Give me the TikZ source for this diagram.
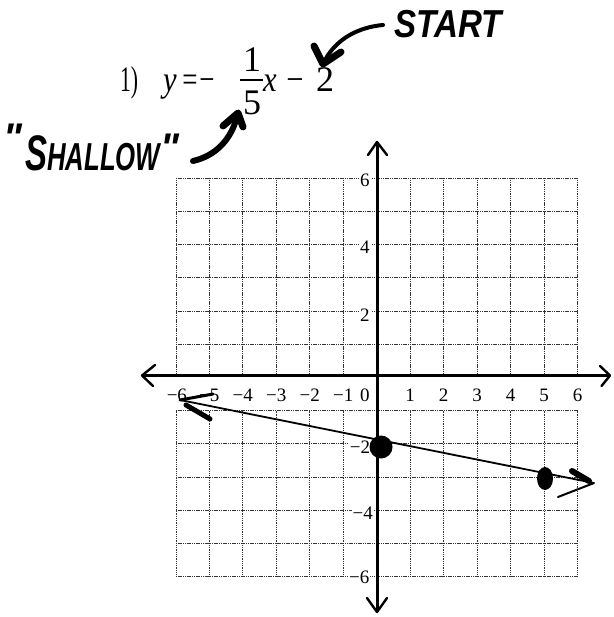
\documentclass[tikz,border=0pt]{standalone}
\usepackage{fontspec}
\usetikzlibrary{shapes.geometric}
\setmainfont{Liberation Serif}
\newfontfamily\hand{Liberation Sans}
\begin{document}
\begin{tikzpicture}[x=1pt,y=-1pt,
  eq/.style={font=\fontsize{36}{36}\selectfont, inner sep=0pt, anchor=base},
  handtxt/.style={font=\hand\bfseries\itshape, inner sep=0pt},
  axlab/.style={font=\fontsize{19}{19}\selectfont, inner sep=0.8pt},
  ylab/.style={axlab, fill=white},
  gridline/.style={line width=0.7pt, black!80, dash pattern=on 1.1pt off 0.7pt},
  axisline/.style={line width=3pt},
  axishead/.style={line width=2.4pt, line cap=round, line join=round},
  marker/.style={line cap=round, line join=round},
  dot/.style={fill=black, inner sep=0pt, draw=none}]
\useasboundingbox (0,0) rectangle (613,617);
\fill[white] (0,0) rectangle (613,617);

% grid
\begin{scope}[shift={(376.7pt,-377.3pt)}, x=33.47pt, y=33.22pt]
  \foreach \i in {1,...,6} \draw[gridline] (-6,\i) -- (6,\i);
  \foreach \i in {-6,...,6} \draw[gridline] (\i,0) -- (\i,6);
  \foreach \i in {-1,...,-6} \draw[gridline] (-6,\i) -- (6,\i);
  \foreach \i in {-6,...,6} \draw[gridline] (\i,-6) -- (\i,-1);
  % y labels
  \node[ylab] (y6) at (-0.35,5.94) {6};
  \node[ylab] (y4) at (-0.35,3.92) {4};
  \node[ylab] (y2) at (-0.35,1.88) {2};
  \node[ylab] (ym2) at (-0.5,-2.1) {−2};
  \node[ylab] (ym4) at (-0.42,-4.08) {−4};
  \node[ylab] (ym6) at (-0.52,-6.03) {−6};
  % x labels
  \foreach \n in {1,...,6} \node[axlab] (xp\n) at (\n,-0.55) {\n};
  \foreach \n in {1,...,5} \node[axlab] (xn\n) at (-\n,-0.55) {−\n};
  \node[axlab] (xn6) at (-5.97,-0.55) {−6};
  \node[axlab] (x0) at (-0.35,-0.55) {0};
\end{scope}

% axes
\coordinate (xl) at (142,375.5);
\coordinate (xr) at (610,375.5);
\coordinate (yt) at (377,142);
\coordinate (yb) at (377,612);
\draw[axisline] (xl) -- (xr);
\draw[axisline] (yt) -- (yb);
\draw[axishead] (155,365) -- (xl) -- (153,386);
\draw[axishead] (600,366) -- (xr) -- (601.5,386);
\draw[axishead] (368,155) -- (yt) -- (387,155);
\draw[axishead] (367,598) -- (yb) -- (387,598);

% graphed line
\coordinate (L) at (180,400);
\coordinate (R) at (594,483);
\draw[line width=1.8pt] (L) -- (R);
\draw[marker, line width=3pt] (L) -- (213,394);
\draw[marker, line width=5pt] (186,405) -- (210,419);
\draw[marker, line width=6pt] (572,471) -- (589,481);
\draw[marker, line width=2pt] (R) -- (558,497);
\node[dot, circle, minimum size=23pt] (d1) at (381,447) {};
\node[dot, ellipse, minimum width=16pt, minimum height=23pt] (d2) at (545,478.5) {};

% equation
\node[eq] (n1) at (129,92) {\scalebox{0.6}[1]{1)}};
\node[eq] (ey) at (170,92) {\scalebox{0.85}[1]{\textit{y}}};
\node[eq] (eeq) at (190,92) {\scalebox{0.75}[1]{=}};
\node[eq] (em1) at (207,92) {\scalebox{0.75}[1]{\char"2212}};
\node[eq] (fnum) at (252,72) {1};
\draw[line width=1.8pt] (240,80) -- (263,80);
\node[eq] (fden) at (252,115) {5};
\node[eq] (ex) at (270,92) {\scalebox{0.85}[1]{\textit{x}}};
\node[eq] (em2) at (295,92) {\scalebox{0.85}[1]{\char"2212}};
\node[eq] (e2) at (325,92) {2};

% START annotation
\node[handtxt, font=\hand\bfseries\itshape\fontsize{39}{39}\selectfont] (start) at (448,24) {\scalebox{0.85}[1]{START}};
\coordinate (st0) at (383,25);
\coordinate (st1) at (323,64);
\draw[marker, line width=4pt] (st0) .. controls (360,27) and (335,38) .. (st1);
\draw[marker, line width=7pt] (314,46) -- (st1) -- (341,52);

% SHALLOW annotation
\node[handtxt, anchor=base west] (shallow) at (25,171)
  {\scalebox{0.66}[1]{\fontsize{50}{50}\selectfont S\fontsize{39}{39}\selectfont HALLOW}};
\node[handtxt, font=\hand\bfseries\itshape\fontsize{40}{40}\selectfont] (q1) at (13,138) {"};
\node[handtxt, font=\hand\bfseries\itshape\fontsize{40}{40}\selectfont] (q2) at (170,148) {"};
\coordinate (sh0) at (193,161);
\coordinate (sh1) at (238,113);
\draw[marker, line width=6pt] (sh0) .. controls (215,156) and (232,140) .. (sh1);
\draw[marker, line width=7pt] (223,126) -- (sh1) -- (243,127);
\end{tikzpicture}
\end{document}
